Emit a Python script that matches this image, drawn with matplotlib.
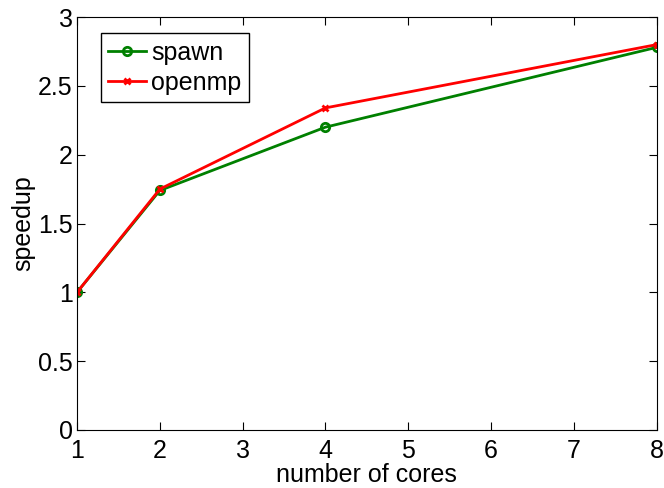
import matplotlib
matplotlib.use("Agg")
import matplotlib.pyplot as plt

plt.rcParams.update({
    "font.family": ["Liberation Sans", "DejaVu Sans"],
    "font.size": 18,
})

cores = [1, 2, 4, 8]
spawn = [1.0, 1.74, 2.20, 2.78]
openmp = [1.0, 1.75, 2.34, 2.80]

fig = plt.figure(figsize=(6.64, 4.88), dpi=100)
ax = fig.add_axes([0.116, 0.119, 0.873, 0.846])
ax.plot(cores, spawn, color="#008000", lw=2, marker="o", ms=6, mfc="none",
        mew=2, label="spawn")
ax.plot(cores, openmp, color="#ff0000", lw=2, marker="x", ms=4, mew=2,
        label="openmp")
ax.set_xlim(1, 8)
ax.set_ylim(0, 3)
ax.set_xticks(range(1, 9))
ax.set_yticks([0, 0.5, 1, 1.5, 2, 2.5, 3])
ax.set_yticklabels(["0", "0.5", "1", "1.5", "2", "2.5", "3"])
ax.tick_params(direction="in", top=True, right=True, length=6, labelsize=18)
ax.tick_params(axis="x", pad=6.5)
ax.tick_params(axis="y", pad=3)
ax.set_xlabel("number of cores", fontsize=18, labelpad=0)
ax.set_ylabel("speedup", fontsize=18, labelpad=2)
leg = ax.legend(loc="upper left", bbox_to_anchor=(0.041, 0.961), fancybox=False,
                edgecolor="black", framealpha=1, fontsize=18,
                handlelength=1.5, handletextpad=0.2, borderpad=0.3,
                labelspacing=0.25, borderaxespad=0)
leg.get_frame().set_linewidth(1)
fig.savefig("out.png", dpi=100)
